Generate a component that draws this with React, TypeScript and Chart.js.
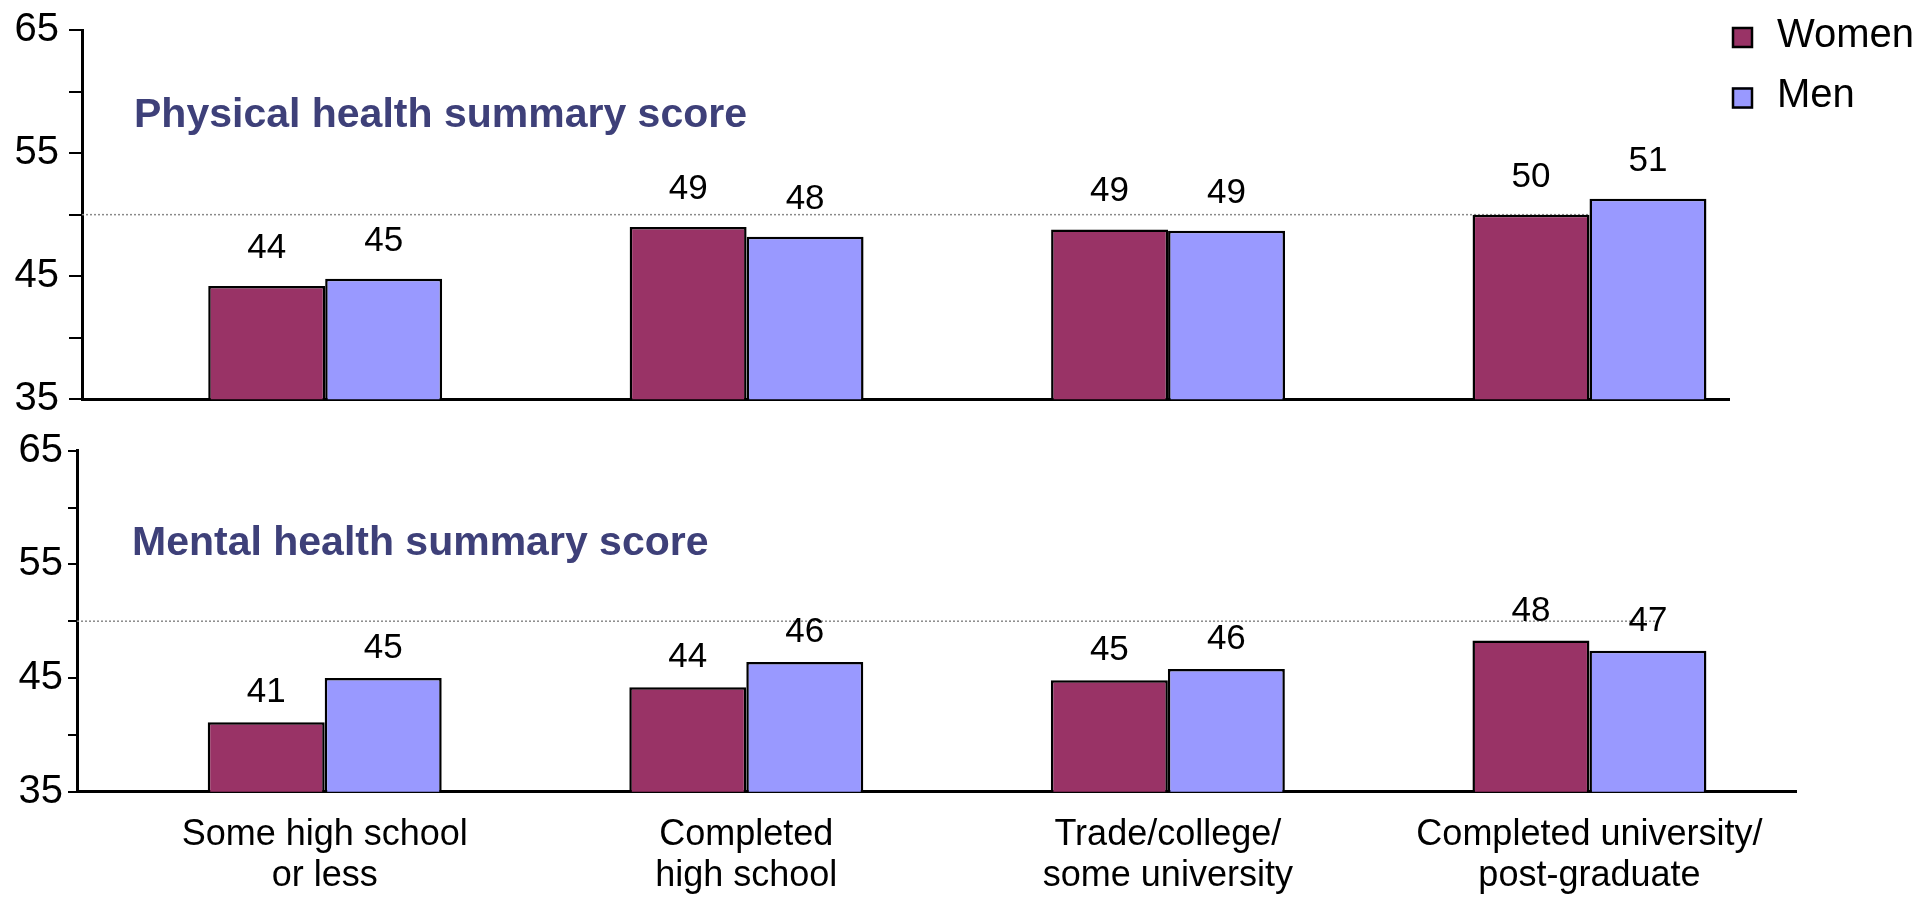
import React, { useEffect, useRef } from "react";
import { Chart, registerables } from "chart.js";

Chart.register(...registerables);

// ---------- data ----------
const CATEGORIES: string[][] = [
  ["Some high school", "or less"],
  ["Completed", "high school"],
  ["Trade/college/", "some university"],
  ["Completed university/", "post-graduate"],
];
const SERIES_NAMES = ["Women", "Men"];
const PHYSICAL_WOMEN = [44.2, 49.0, 48.8, 50.0];
const PHYSICAL_MEN = [44.8, 48.2, 48.7, 51.3];
const MENTAL_WOMEN = [41.1, 44.2, 44.8, 48.3];
const MENTAL_MEN = [45.0, 46.4, 45.8, 47.4];
const Y_LABELED_TICKS = [35, 45, 55, 65];
const Y_MIN = 35;
const Y_MAX = 65;
const Y_STEP = 5;
const REFERENCE_SCORE = 50;
const PANEL_TITLES = ["Physical health summary score", "Mental health summary score"];

// ---------- styles ----------
const FONT = '"Liberation Sans", Arial, Helvetica, sans-serif';
const WOMEN_COLOR = "#993366";
const MEN_COLOR = "#9999FF";
const TITLE_COLOR = "#3E4079";
const REF_COLOR = "#8a8a8a";

type PanelCfg = {
  title: string;
  women: number[];
  men: number[];
  width: number;
  height: number;
  padTop: number;
  padRight: number;
  yAxisWidth: number;
  xAxisHeight: number;
  xMin: number;
  xMax: number;
  refEnd: number;
  showXLabels: boolean;
  showLegend: boolean;
  tickLength: number;
  tickPad: number;
  titleX: number;
  titleY: number;
  labelGap: number;
};

function makeIndexed(values: number[]) {
  return values.map((v, i) => ({ x: i, y: v }));
}

function buildChart(canvas: HTMLCanvasElement, cfg: PanelCfg) {
  const titlePlugin = {
    id: "panelTitle",
    afterDraw(chart: any) {
      const ctx = chart.ctx;
      ctx.save();
      ctx.font = `bold 41px ${FONT}`;
      ctx.fillStyle = TITLE_COLOR;
      ctx.textAlign = "left";
      ctx.textBaseline = "alphabetic";
      ctx.fillText(cfg.title, cfg.titleX, cfg.titleY);
      ctx.restore();
    },
  };

  const valueLabels = {
    id: "valueLabels",
    afterDatasetsDraw(chart: any) {
      const ctx = chart.ctx;
      ctx.save();
      ctx.font = `35px ${FONT}`;
      ctx.fillStyle = "#000";
      ctx.textAlign = "center";
      ctx.textBaseline = "alphabetic";
      chart.data.datasets.forEach((ds: any, di: number) => {
        if (ds.type !== "bar") return;
        const meta = chart.getDatasetMeta(di);
        meta.data.forEach((el: any, i: number) => {
          const v = ds.data[i].y;
          ctx.fillText(String(Math.round(v)), el.x, el.y - cfg.labelGap);
        });
      });
      ctx.restore();
    },
  };

  const legendPlugin = {
    id: "sideLegend",
    afterDraw(chart: any) {
      if (!cfg.showLegend) return;
      const ctx = chart.ctx;
      ctx.save();
      const bars = chart.data.datasets.filter((d: any) => d.type === "bar");
      bars.forEach((ds: any, j: number) => {
        const bx = chart.chartArea.right + 3;
        const by = 27 + j * 60.5;
        ctx.fillStyle = ds.backgroundColor;
        ctx.fillRect(bx, by, 21, 21);
        ctx.strokeStyle = "#000";
        ctx.lineWidth = 2.5;
        ctx.strokeRect(bx + 1, by + 1, 19, 19);
        ctx.font = `40px ${FONT}`;
        ctx.fillStyle = "#000";
        ctx.textAlign = "left";
        ctx.textBaseline = "alphabetic";
        ctx.fillText(ds.label, bx + 45, by + 19.5);
      });
      ctx.restore();
    },
  };

  return new Chart(canvas, {
    type: "bar",
    data: {
      datasets: [
        {
          type: "bar",
          label: SERIES_NAMES[0],
          data: makeIndexed(cfg.women),
          backgroundColor: WOMEN_COLOR,
          borderColor: "#000",
          borderWidth: 2.5,
          order: 1,
        } as any,
        {
          type: "bar",
          label: SERIES_NAMES[1],
          data: makeIndexed(cfg.men),
          backgroundColor: MEN_COLOR,
          borderColor: "#000",
          borderWidth: 2.5,
          order: 1,
        } as any,
        {
          type: "line",
          label: "reference",
          data: [
            { x: cfg.xMin, y: REFERENCE_SCORE },
            { x: cfg.refEnd, y: REFERENCE_SCORE },
          ],
          borderColor: REF_COLOR,
          borderWidth: 1.5,
          borderDash: [2, 2],
          pointRadius: 0,
          fill: false,
          order: 10,
        } as any,
      ],
    },
    options: {
      responsive: false,
      animation: false,
      events: [],
      layout: { padding: { top: cfg.padTop, right: cfg.padRight, left: 0, bottom: 0 } },
      datasets: {
        bar: { categoryPercentage: 0.555, barPercentage: 1, grouped: true },
      } as any,
      plugins: {
        legend: { display: false },
        tooltip: { enabled: false },
        title: { display: false },
      },
      scales: {
        x: {
          type: "linear",
          min: cfg.xMin,
          max: cfg.xMax,
          offset: false,
          grid: { display: false, drawTicks: false, offset: false },
          border: { display: true, color: "#000", width: 3 },
          ticks: {
            display: cfg.showXLabels,
            stepSize: 1,
            includeBounds: false,
            autoSkip: false,
            maxRotation: 0,
            minRotation: 0,
            padding: 23,
            color: "#000",
            font: { family: FONT, size: 36, lineHeight: 1.14 },
            callback: (v: any) => CATEGORIES[v] ?? "",
          },
          afterFit: (s: any) => {
            s.height = cfg.xAxisHeight;
          },
        } as any,
        y: {
          type: "linear",
          min: Y_MIN,
          max: Y_MAX,
          beginAtZero: false,
          grid: {
            display: true,
            drawOnChartArea: false,
            drawTicks: true,
            tickLength: cfg.tickLength,
            color: "#000",
            lineWidth: 2,
          },
          border: { display: true, color: "#000", width: 3 },
          ticks: {
            stepSize: Y_STEP,
            padding: cfg.tickPad,
            color: "#000",
            font: { family: FONT, size: 40, lineHeight: 0.2 },
            callback: (v: any) => (Y_LABELED_TICKS.includes(v) ? String(v) : ""),
          },
          afterFit: (s: any) => {
            s.width = cfg.yAxisWidth;
          },
        } as any,
      },
    },
    plugins: [titlePlugin, valueLabels, legendPlugin],
  } as any);
}

const TOP_CFG: PanelCfg = {
  title: PANEL_TITLES[0],
  women: PHYSICAL_WOMEN,
  men: PHYSICAL_MEN,
  width: 1923,
  height: 420,
  padTop: 30,
  padRight: 194,
  yAxisWidth: 82,
  xAxisHeight: 20.7,
  xMin: -0.577,
  xMax: 3.331,
  refEnd: 3.2,
  showXLabels: false,
  showLegend: true,
  tickLength: 13,
  tickPad: 10,
  titleX: 134,
  titleY: 127,
  labelGap: 28,
};

const BOTTOM_CFG: PanelCfg = {
  title: PANEL_TITLES[1],
  women: MENTAL_WOMEN,
  men: MENTAL_MEN,
  width: 1923,
  height: 479,
  padTop: 30.7,
  padRight: 127,
  yAxisWidth: 77,
  xAxisHeight: 107.3,
  xMin: -0.5876,
  xMax: 3.49,
  refEnd: 3.16,
  showXLabels: true,
  showLegend: false,
  tickLength: 9,
  tickPad: 5,
  titleX: 132,
  titleY: 135,
  labelGap: 20,
};

function Panel({ cfg, top }: { cfg: PanelCfg; top: number }) {
  const ref = useRef<HTMLCanvasElement | null>(null);
  useEffect(() => {
    if (!ref.current) return;
    const chart = buildChart(ref.current, cfg);
    return () => chart.destroy();
  }, [cfg]);
  return (
    <canvas
      ref={ref}
      width={cfg.width}
      height={cfg.height}
      style={{
        position: "absolute",
        left: 0,
        top,
        width: cfg.width,
        height: cfg.height,
        display: "block",
      }}
    />
  );
}

export default function App() {
  return (
    <div
      style={{
        position: "absolute",
        left: 0,
        top: 0,
        width: 1923,
        height: 899,
        overflow: "hidden",
        background: "#fff",
      }}
    >
      <Panel cfg={TOP_CFG} top={0} />
      <Panel cfg={BOTTOM_CFG} top={420} />
    </div>
  );
}
